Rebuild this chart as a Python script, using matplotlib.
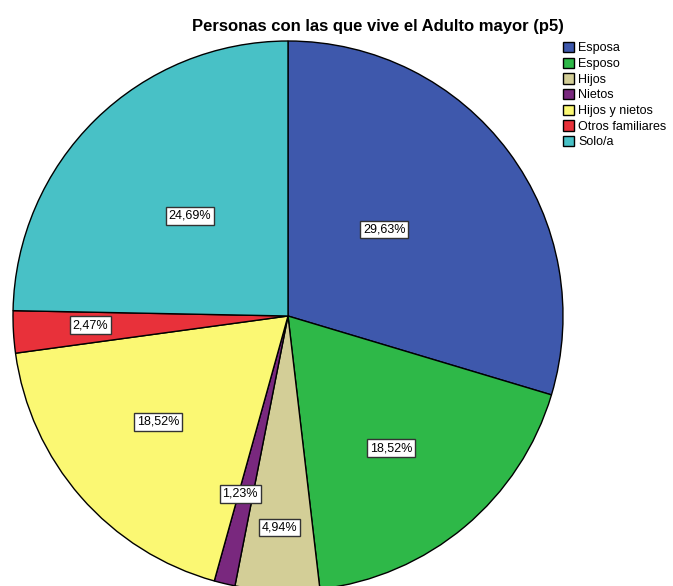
import matplotlib
matplotlib.use("Agg")
import matplotlib.pyplot as plt
import numpy as np

categories = ["Esposa", "Esposo", "Hijos", "Nietos", "Hijos y nietos", "Otros familiares", "Solo/a"]
percentages = [29.63, 18.52, 4.94, 1.23, 18.52, 2.47, 24.69]
colors = ["#3E58AC", "#2EB848", "#D3CE97", "#79287E", "#FBF873", "#E8313A", "#48C1C6"]
label_frac = [0.47, 0.61, 0.77, 0.67, 0.61, 0.72, 0.51]
label_ang_off = [5.2, -2.0, 0.0, -1.7, -2.0, -0.7, 0.0]

plt.rcParams['font.family'] = ['Liberation Sans', 'DejaVu Sans']

W, H = 673, 586
fig = plt.figure(figsize=(W / 100, H / 100), dpi=100)
ax = fig.add_axes([0, 0, 1, 1])
cx, cy, R = 288, H - 316, 275
wedges, _ = ax.pie(percentages, colors=colors, startangle=90, counterclock=False,
                   center=(cx, cy), radius=R,
                   wedgeprops=dict(edgecolor="black", linewidth=1.0))
for w, p, f, off in zip(wedges, percentages, label_frac, label_ang_off):
    ang = np.deg2rad((w.theta1 + w.theta2) / 2 + off)
    x = cx + f * R * np.cos(ang)
    y = cy + f * R * np.sin(ang)
    ax.text(x, y, f"{p:.2f}%".replace(".", ","), ha="center", va="center", fontsize=9,
            bbox=dict(boxstyle="square,pad=0.22", facecolor="white", edgecolor="#333333", linewidth=1))
ax.set_xlim(0, W)
ax.set_ylim(0, H)
ax.set_aspect("equal")
ax.axis("off")

fig.text(378 / W, 1 - 26 / H, "Personas con las que vive el Adulto mayor (p5)", ha="center", va="center",
         fontsize=12, fontweight="bold")

leg = ax.legend(wedges, categories, loc="upper left", bbox_to_anchor=(563 / W, 1 - 42 / H),
                frameon=False, fontsize=9, handlelength=0.9, handleheight=0.9,
                handletextpad=0.3, labelspacing=0.25, borderpad=0, borderaxespad=0)

fig.savefig("out.png", dpi=100)
